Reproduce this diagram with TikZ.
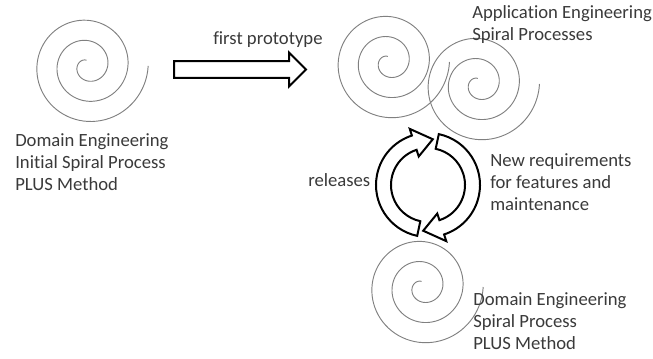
\documentclass[tikz,border=0pt]{standalone}
\usepackage{fontspec}
\setmainfont{Carlito}[Ligatures=NoCommon]
\usepackage{tikz}
\usetikzlibrary{shapes.arrows}
\definecolor{sptext}{HTML}{3A3A3A}
\definecolor{spgray}{HTML}{808080}

\begin{document}
\begin{tikzpicture}[x=0.75pt, y=0.75pt,
  font=\fontsize{14}{16.5}\selectfont,
  lbl/.style={text=sptext, align=left, inner sep=0pt, anchor=north west},
  spiralline/.style={draw=spgray, line width=0.7pt},
  spiral/.pic={\draw[spiralline] plot[domain=100:1080, samples=220, smooth] (\x:{\x/17.8});},
  bigarrow/.style={draw=black, line width=1.5pt, fill=white},
  flatarrow/.style={bigarrow, single arrow, single arrow head extend=6.4pt, minimum height=99pt,
    inner xsep=0pt, inner ysep=5.6pt, text height=0pt, text depth=0pt}
]
\useasboundingbox (0,0) rectangle (653,-359);
% ================= the four spiral processes =================
\coordinate (dom1) at (87.5,-65.8);
\coordinate (app1) at (388.8,-62);
\coordinate (app2) at (478.8,-84);
\coordinate (dom2) at (422.5,-287);
\pic at (dom1) {spiral};
\pic at (app1) {spiral};
\pic at (app2) {spiral};
\pic at (dom2) {spiral};
% ================= labels =================
\node[lbl] (dom1 lbl) at (15,-133.5) {Domain Engineering\\Initial Spiral Process\\PLUS Method};
\node[lbl] (app lbl) at (472,-5.5) {Application Engineering\\Spiral Processes};
\node[lbl] (dom2 lbl) at (473,-292.5) {Domain Engineering\\Spiral Process\\PLUS Method};
% ================= first prototype =================
\node[flatarrow, anchor=tail] (proto) at (173,-69.5) {};
\node[lbl, anchor=base west] (proto lbl) at (213,-45) {first prototype};
% ================= release cycle =================
\coordinate (cyc) at (428,-185);
\begin{scope}[shift={(cyc)}]
  \draw[bigarrow] (258:52) arc[start angle=258, end angle=108, radius=52] -- (108:59) -- (84:46)
    -- (108:30) -- (108:37) arc[start angle=108, end angle=258, radius=37] -- cycle;
  \draw[bigarrow, rotate=180] (258:52) arc[start angle=258, end angle=108, radius=52] -- (108:59) -- (84:46)
    -- (108:30) -- (108:37) arc[start angle=108, end angle=258, radius=37] -- cycle;
\end{scope}
\node[lbl, anchor=base west] (rel lbl) at (308,-186.5) {releases};
\node[lbl] (req lbl) at (490,-153.5) {New requirements\\for features and\\maintenance};
\end{tikzpicture}
\end{document}
